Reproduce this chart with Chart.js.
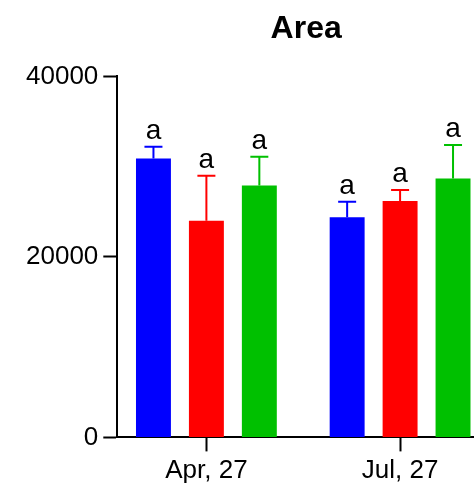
<!DOCTYPE html>
<html>
<head>
<meta charset="utf-8">
<script src="https://cdn.jsdelivr.net/npm/chart.js@4"></script>
<style>
html, body { margin: 0; padding: 0; background: #fff; overflow: hidden; }
#wrap { position: relative; width: 500px; height: 490px; }
</style>
</head>
<body>
<div id="wrap"><canvas id="chart-area"></canvas></div>
<script>
(function () {
const categories = ['Apr, 27', 'Jul, 27'];
const seriesNames = ['Group 1', 'Group 2', 'Group 3'];
const blueMeans = [30900, 24400];
const blueErrors = [1300, 1700];
const redMeans = [24000, 26200];
const redErrors = [5000, 1200];
const greenMeans = [27900, 28700];
const greenErrors = [3200, 3700];
const blueLetters = ['a', 'a'];
const redLetters = ['a', 'a'];
const greenLetters = ['a', 'a'];
const yTicks = [0, 20000, 40000];

const FONT = '"Liberation Sans", Arial, sans-serif';

// bars sit at category index 1, 2 on a linear x axis
const toPoints = values => values.map((v, i) => ({ x: i + 1, y: v }));

// error bars + significance letters
const errorBars = {
    id: 'errorBars',
    afterDatasetsDraw(chart) {
        const ctx = chart.ctx;
        const yScale = chart.scales.y;
        chart.data.datasets.forEach((ds, i) => {
            const meta = chart.getDatasetMeta(i);
            meta.data.forEach((bar, j) => {
                const top = yScale.getPixelForValue(ds.data[j].y + ds.errors[j]);
                ctx.save();
                ctx.strokeStyle = ds.backgroundColor;
                ctx.lineWidth = 2;
                ctx.beginPath();
                ctx.moveTo(bar.x, bar.y);
                ctx.lineTo(bar.x, top);
                ctx.moveTo(bar.x - 9, top);
                ctx.lineTo(bar.x + 9, top);
                ctx.stroke();
                ctx.fillStyle = '#000';
                ctx.font = '28px ' + FONT;
                ctx.textAlign = 'center';
                ctx.textBaseline = 'alphabetic';
                ctx.fillText(ds.letters[j], bar.x, top - 8);
                ctx.restore();
            });
        });
    }
};

const data = {
    datasets: [
        {
            label: seriesNames[0],
            data: toPoints(blueMeans),
            errors: blueErrors,
            letters: blueLetters,
            backgroundColor: '#0000ff'
        },
        {
            label: seriesNames[1],
            data: toPoints(redMeans),
            errors: redErrors,
            letters: redLetters,
            backgroundColor: '#ff0000'
        },
        {
            label: seriesNames[2],
            data: toPoints(greenMeans),
            errors: greenErrors,
            letters: greenLetters,
            backgroundColor: '#00c000'
        }
    ]
};

const axisGrid = {
    offset: false,
    drawOnChartArea: false,
    drawTicks: true,
    tickLength: 14,
    tickWidth: 2,
    tickColor: '#000'
};

new Chart(document.getElementById('chart-area'), {
    type: 'bar',
    data: data,
    plugins: [errorBars],
    options: {
        responsive: true,
        maintainAspectRatio: false,
        animation: false,
        categoryPercentage: 0.82,
        barPercentage: 0.66,
        layout: { padding: { left: 21, right: 5, top: 0, bottom: 0 } },
        plugins: {
            legend: { display: false },
            tooltip: { enabled: false },
            title: {
                display: true,
                text: 'Area',
                fullSize: false,
                color: '#000',
                font: { family: FONT, size: 32, weight: 'bold' },
                padding: { top: 10, bottom: 28 }
            }
        },
        scales: {
            x: {
                type: 'linear',
                offset: false,
                min: 0.54,
                max: 2.49,
                grid: axisGrid,
                border: { display: true, color: '#000', width: 2 },
                ticks: {
                    stepSize: 1,
                    includeBounds: false,
                    autoSkip: false,
                    maxRotation: 0,
                    padding: 5,
                    color: '#000',
                    font: { family: FONT, size: 26, lineHeight: 1.1 },
                    callback: value => categories[value - 1] || ''
                }
            },
            y: {
                min: 0,
                max: 40000,
                grid: axisGrid,
                border: { display: true, color: '#000', width: 2 },
                afterBuildTicks: axis => { axis.ticks = yTicks.map(v => ({ value: v })); },
                ticks: {
                    padding: 5,
                    color: '#000',
                    font: { family: FONT, size: 26 },
                    callback: value => String(value)
                }
            }
        }
    }
});
})();
</script>
</body>
</html>
